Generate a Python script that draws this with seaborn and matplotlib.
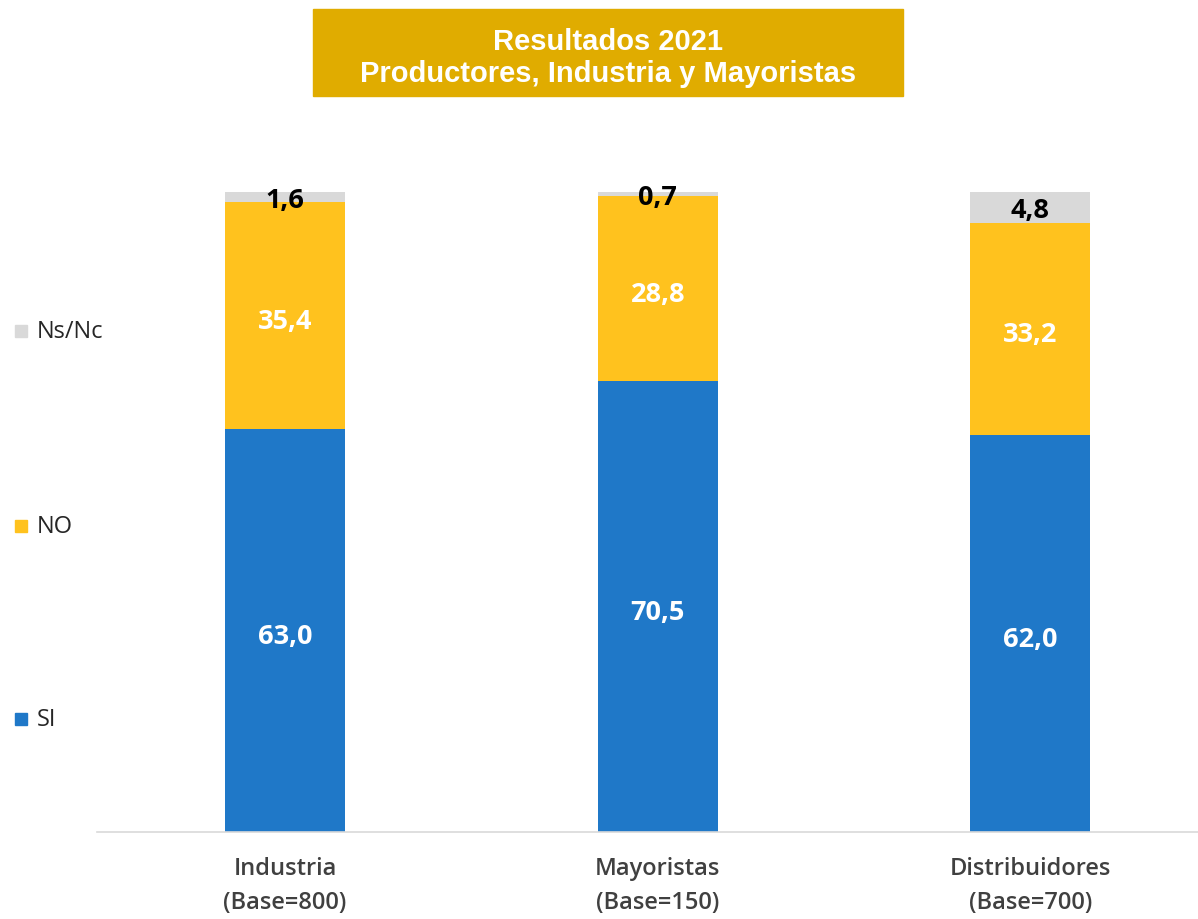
import numpy as np
import pandas as pd
import matplotlib.pyplot as plt
import seaborn as sns
from matplotlib.patches import Rectangle

## DATOS
categorias = ["Industria\n(Base=800)", "Mayoristas\n(Base=150)", "Distribuidores\n(Base=700)"]
si = [63.0, 70.5, 62.0]
no = [35.4, 28.8, 33.2]
nsnc = [1.6, 0.7, 4.8]

series = ["SI", "NO", "Ns/Nc"]
colores = {"SI": "#1f78c8", "NO": "#ffc21e", "Ns/Nc": "#d9d9d9"}
color_texto = {"SI": "white", "NO": "white", "Ns/Nc": "black"}

df = pd.DataFrame({"categoria": categorias, "SI": si, "NO": no, "Ns/Nc": nsnc})
df["cum_SI"] = df["SI"]
df["cum_NO"] = df["cum_SI"] + df["NO"]
df["cum_Ns/Nc"] = df["cum_NO"] + df["Ns/Nc"]

sns.set_style("white")
plt.rcParams["font.family"] = ["Open Sans", "DejaVu Sans"]

fig = plt.figure(figsize=(11.98, 9.2), dpi=100)
ax = fig.add_axes([97 / 1198, 87 / 920, 1 - 97 / 1198, (833 - 193) / 920])

# capas apiladas: primero el total, luego encima las sumas parciales
for s in reversed(series):
    sns.barplot(data=df, x="categoria", y="cum_" + s, color=colores[s],
                width=0.322, saturation=1, ax=ax, linewidth=0)

# etiquetas de valores
for i in range(len(categorias)):
    base = 0
    for s in series:
        val = df[s][i]
        off = 0.4 if s == "Ns/Nc" else 0.8
        ax.text(i, base + val / 2 - off, f"{val:.1f}".replace(".", ","),
                ha="center", va="center", fontsize=19.5, fontweight="bold",
                color=color_texto[s])
        base += val

ax.set_xlim(-0.505, 2.45)
ax.set_ylim(0, 100)
ax.set_xlabel("")
ax.set_ylabel("")
ax.set_yticks([])
ax.tick_params(axis="x", length=0, pad=17, labelsize=17, labelcolor="#404040")
for lbl in ax.get_xticklabels():
    lbl.set_linespacing(1.55)
    lbl.set_fontweight("semibold")
sns.despine(ax=ax, left=True, top=True, right=True)
ax.spines["bottom"].set_color("#d9d9d9")
ax.spines["bottom"].set_linewidth(1.2)

# leyenda a la izquierda
leyenda_y = {"Ns/Nc": 332, "NO": 527, "SI": 720}
for s in series:
    yf = 1 - leyenda_y[s] / 920
    fig.patches.append(Rectangle((15 / 1198, yf - 6 / 920), 12 / 1198, 12 / 920,
                                 transform=fig.transFigure, color=colores[s]))
    fig.text(37 / 1198, yf, s, ha="left", va="center", fontsize=17, color="#262626")

# caja del titulo
fig.patches.append(Rectangle((313 / 1198, 1 - 97 / 920), 590 / 1198, 87 / 920,
                             transform=fig.transFigure, color="#e0ac00"))
fig.text(608 / 1198, 1 - 58 / 920, "Resultados 2021\nProductores, Industria y Mayoristas",
         ha="center", va="center", fontsize=21, fontweight="bold", color="white",
         family=["Liberation Sans", "DejaVu Sans"], linespacing=1.2)

fig.savefig("out.png", dpi=100)
